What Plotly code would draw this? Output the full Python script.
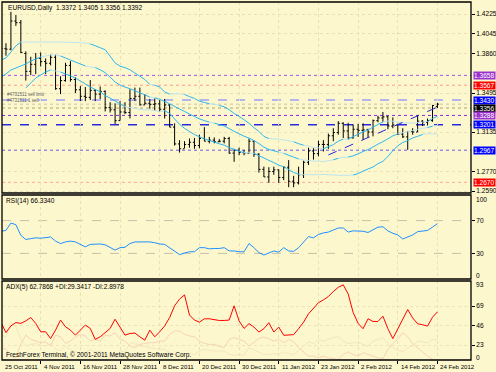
import plotly.graph_objects as go

# ---------------- data ----------------
date_labels = ["25 Oct 2011", "4 Nov 2011", "16 Nov 2011", "28 Nov 2011", "8 Dec 2011",
               "20 Dec 2011", "30 Dec 2011", "11 Jan 2012", "23 Jan 2012", "2 Feb 2012",
               "14 Feb 2012", "24 Feb 2012"]
date_label_bars = [0, 8, 16, 24, 32, 40, 48, 56, 64, 72, 80, 88]

opens = [1.3900, 1.3905, 1.3900, 1.4160, 1.4145, 1.3860, 1.3695, 1.3760, 1.3815, 1.3785,
         1.3770, 1.3825, 1.3535, 1.3610, 1.3750, 1.3620, 1.3525, 1.3465, 1.3455, 1.3520,
         1.3485, 1.3510, 1.3360, 1.3340, 1.3240, 1.3320, 1.3315, 1.3445, 1.3465, 1.3385,
         1.3400, 1.3390, 1.3395, 1.3345, 1.3385, 1.3180, 1.3025, 1.2980, 1.3020, 1.3040,
         1.3010, 1.3075, 1.3050, 1.3060, 1.3045, 1.3050, 1.3075, 1.2940, 1.2965, 1.2945,
         1.2940, 1.3050, 1.2930, 1.2790, 1.2720, 1.2770, 1.2785, 1.2715, 1.2810, 1.2680,
         1.2665, 1.2740, 1.2855, 1.2960, 1.2935, 1.3020, 1.3020, 1.3100, 1.3130, 1.3215,
         1.3145, 1.3080, 1.3160, 1.3150, 1.3155, 1.3135, 1.3240, 1.3265, 1.3275, 1.3190,
         1.3200, 1.3115, 1.3090, 1.3140, 1.3135, 1.3235, 1.3225, 1.3240, 1.3372]
highs = [1.3960, 1.3955, 1.4245, 1.4215, 1.4170, 1.3880, 1.3830, 1.3865, 1.3870, 1.3815,
         1.3850, 1.3850, 1.3650, 1.3775, 1.3790, 1.3640, 1.3560, 1.3550, 1.3615, 1.3530,
         1.3555, 1.3520, 1.3410, 1.3400, 1.3420, 1.3410, 1.3530, 1.3545, 1.3545, 1.3485,
         1.3440, 1.3445, 1.3430, 1.3440, 1.3390, 1.3215, 1.3060, 1.3050, 1.3075, 1.3080,
         1.3110, 1.3180, 1.3090, 1.3085, 1.3070, 1.3090, 1.3090, 1.2980, 1.2990, 1.2970,
         1.3075, 1.3055, 1.2940, 1.2815, 1.2810, 1.2815, 1.2790, 1.2815, 1.2875, 1.2730,
         1.2815, 1.2870, 1.2990, 1.2985, 1.3055, 1.3060, 1.3120, 1.3170, 1.3235, 1.3225,
         1.3220, 1.3205, 1.3210, 1.3215, 1.3165, 1.3250, 1.3285, 1.3320, 1.3285, 1.3270,
         1.3210, 1.3170, 1.3145, 1.3170, 1.3290, 1.3245, 1.3260, 1.3385, 1.3405]
lows = [1.3840, 1.3840, 1.3890, 1.4115, 1.3865, 1.3610, 1.3660, 1.3670, 1.3740, 1.3670,
        1.3750, 1.3525, 1.3485, 1.3600, 1.3600, 1.3495, 1.3420, 1.3420, 1.3430, 1.3420,
        1.3440, 1.3325, 1.3315, 1.3210, 1.3240, 1.3300, 1.3260, 1.3420, 1.3380, 1.3385,
        1.3350, 1.3330, 1.3320, 1.3260, 1.3180, 1.3010, 1.2945, 1.2985, 1.2990, 1.2980,
        1.2985, 1.3050, 1.3030, 1.3030, 1.3040, 1.3030, 1.2935, 1.2860, 1.2920, 1.2920,
        1.2935, 1.2905, 1.2760, 1.2720, 1.2665, 1.2740, 1.2665, 1.2690, 1.2625, 1.2625,
        1.2650, 1.2710, 1.2830, 1.2880, 1.2910, 1.2955, 1.2980, 1.3050, 1.3110, 1.3080,
        1.3065, 1.3075, 1.3090, 1.3060, 1.3080, 1.3095, 1.3225, 1.3225, 1.3160, 1.3170,
        1.3110, 1.3080, 1.2970, 1.3110, 1.3135, 1.3190, 1.3195, 1.3230, 1.3356]
closes = [1.3905, 1.3900, 1.4160, 1.4145, 1.3870, 1.3695, 1.3760, 1.3815, 1.3785, 1.3770,
          1.3825, 1.3535, 1.3610, 1.3750, 1.3620, 1.3525, 1.3465, 1.3455, 1.3520, 1.3485,
          1.3510, 1.3360, 1.3340, 1.3240, 1.3320, 1.3315, 1.3445, 1.3465, 1.3385, 1.3400,
          1.3390, 1.3395, 1.3345, 1.3385, 1.3180, 1.3025, 1.2980, 1.3020, 1.3040, 1.3010,
          1.3075, 1.3050, 1.3060, 1.3045, 1.3050, 1.3075, 1.2940, 1.2965, 1.2945, 1.2940,
          1.3050, 1.2930, 1.2790, 1.2720, 1.2770, 1.2785, 1.2715, 1.2810, 1.2680, 1.2665,
          1.2740, 1.2855, 1.2960, 1.2935, 1.3020, 1.3020, 1.3100, 1.3130, 1.3215, 1.3145,
          1.3080, 1.3160, 1.3150, 1.3155, 1.3135, 1.3240, 1.3265, 1.3275, 1.3190, 1.3200,
          1.3115, 1.3090, 1.3140, 1.3135, 1.3235, 1.3225, 1.3240, 1.3380, 1.3392]

band_upper = [1.3800, 1.3819, 1.3874, 1.3930, 1.3966, 1.3966, 1.3966, 1.3966, 1.3966, 1.3966,
              1.3966, 1.3966, 1.3966, 1.3964, 1.3964, 1.3962, 1.3960, 1.3957, 1.3948, 1.3932,
              1.3913, 1.3895, 1.3836, 1.3773, 1.3743, 1.3730, 1.3710, 1.3680, 1.3650, 1.3620,
              1.3574, 1.3567, 1.3550, 1.3505, 1.3485, 1.3487, 1.3488, 1.3481, 1.3462, 1.3445,
              1.3420, 1.3408, 1.3396, 1.3392, 1.3380, 1.3368, 1.3341, 1.3307, 1.3280, 1.3248,
              1.3215, 1.3175, 1.3140, 1.3094, 1.3075, 1.3071, 1.3070, 1.3061, 1.3053, 1.3045,
              1.3027, 1.3013, 1.3003, 1.2992, 1.2989, 1.2981, 1.2999, 1.3018, 1.3050, 1.3069,
              1.3071, 1.3092, 1.3115, 1.3136, 1.3153, 1.3180, 1.3204, 1.3228, 1.3236, 1.3235,
              1.3226, 1.3220, 1.3220, 1.3216, 1.3223, 1.3226, 1.3232, 1.3260, 1.3280]
band_mid = [1.3643, 1.3671, 1.3708, 1.3726, 1.3745, 1.3763, 1.3791, 1.3809, 1.3828, 1.3837,
            1.3846, 1.3846, 1.3837, 1.3819, 1.3800, 1.3782, 1.3763, 1.3745, 1.3736, 1.3730,
            1.3710, 1.3683, 1.3642, 1.3597, 1.3569, 1.3550, 1.3535, 1.3517, 1.3497, 1.3479,
            1.3457, 1.3450, 1.3437, 1.3418, 1.3396, 1.3371, 1.3347, 1.3325, 1.3301, 1.3278,
            1.3256, 1.3240, 1.3226, 1.3217, 1.3203, 1.3191, 1.3166, 1.3141, 1.3119, 1.3096,
            1.3079, 1.3056, 1.3028, 1.2995, 1.2974, 1.2962, 1.2949, 1.2938, 1.2920, 1.2903,
            1.2886, 1.2877, 1.2872, 1.2866, 1.2865, 1.2862, 1.2870, 1.2878, 1.2892, 1.2902,
            1.2903, 1.2915, 1.2933, 1.2955, 1.2973, 1.2996, 1.3023, 1.3046, 1.3072, 1.3099,
            1.3117, 1.3129, 1.3138, 1.3148, 1.3159, 1.3169, 1.3176, 1.3189, 1.3197]
band_lower = [None, None, None, None, None, 1.3542, 1.3588, 1.3634, 1.3662, 1.3689,
              1.3708, 1.3699, 1.3689, 1.3671, 1.3653, 1.3634, 1.3606, 1.3579, 1.3551, 1.3528,
              1.3507, 1.3471, 1.3448, 1.3421, 1.3395, 1.3370, 1.3360, 1.3354, 1.3344, 1.3338,
              1.3339, 1.3333, 1.3324, 1.3331, 1.3307, 1.3255, 1.3206, 1.3169, 1.3140, 1.3111,
              1.3092, 1.3072, 1.3056, 1.3042, 1.3026, 1.3014, 1.2991, 1.2975, 1.2958, 1.2944,
              1.2943, 1.2937, 1.2916, 1.2895, 1.2873, 1.2853, 1.2828, 1.2815, 1.2787, 1.2761,
              1.2745, 1.2741, 1.2741, 1.2740, 1.2741, 1.2743, 1.2741, 1.2738, 1.2734, 1.2735,
              1.2735, 1.2738, 1.2751, 1.2774, 1.2793, 1.2812, 1.2842, 1.2864, 1.2908, 1.2963,
              1.3008, 1.3038, 1.3056, 1.3080, 1.3095, 1.3112, 1.3120, 1.3118, 1.3114]

trend_bars = [66, 89]
trend_prices = [1.2923, 1.3385]

rsi = [57, 58, 67, 65, 52, 47, 48, 49, 48.5, 49, 50, 45, 42, 44, 45, 44, 41, 38, 41, 41.5,
       41.5, 40.5, 37, 34, 37, 37.5, 42, 44, 44, 44, 44, 43, 41.5, 41, 37, 32, 28.5, 30.5, 32, 32,
       37, 37, 35.5, 36, 36, 37, 33, 33, 32, 32, 42, 37, 31, 28, 31, 33, 31.5, 37, 33, 32.5,
       37, 44, 50.5, 49, 53, 55, 56, 58.5, 61, 61, 56, 57.5, 57, 57, 55.5, 59, 62, 62.5, 57.5,
       54.5, 52.5, 47.6, 50, 52.5, 56.5, 57.5, 58, 62, 66.334]
adx = [50, 38, 46, 50, 49, 52, 56, 49, 39, 39, 31, 41, 53, 45, 41, 35, 41, 47, 43, 30,
       33, 38, 43, 54, 45, 35, 37, 37.5, 33, 29, 41, 33, 39, 46, 56, 70, 78, 83, 59, 53,
       50.5, 54.5, 54.5, 53.3, 52.5, 52.5, 53, 70, 52, 43, 48.8, 44.6, 38.7, 42.7, 49.8, 38.7,
       44.6, 34.8, 34.8, 35.6, 42.7, 50.5, 60.4, 67, 73.7, 77, 81, 87, 92, 95, 84, 62, 49,
       42.7, 54.5, 51.3, 51.3, 57.6, 42.7, 30.9, 42.7, 54.5, 65.5, 55.5, 48.6, 47.4, 45.8,
       56.4, 62.7868]
plus_di = [35, 33, 50, 45, 30, 22, 24, 25, 23, 22, 25, 18, 17, 22, 18, 15, 13, 14, 18, 15,
           16, 12, 11, 10, 16, 15, 25, 26, 22, 21, 20, 19, 18, 18, 14, 12, 11, 13, 13, 12,
           16, 18, 17, 16, 16, 16, 12, 11, 12, 11, 20, 17, 14, 12, 12, 13, 12, 15, 13, 12,
           17, 22, 27, 25, 30, 28, 30, 32, 33, 28, 25, 26, 26, 24, 22, 28, 30, 32, 25, 20,
           17, 15, 20, 22, 28, 27, 26, 30, 29.3417]
minus_di = [20, 18, 10, 8, 25, 35, 30, 28, 26, 27, 22, 35, 33, 25, 28, 33, 36, 34, 28, 30,
            28, 35, 34, 38, 30, 28, 22, 20, 24, 25, 26, 26, 28, 28, 36, 40, 40, 36, 34, 33,
            28, 25, 24, 24, 22, 20, 30, 32, 30, 28, 22, 27, 31, 33, 30, 28, 30, 26, 30, 27,
            20, 15, 10, 10, 8, 10, 8, 7, 6, 12, 15, 12, 10, 14, 12, 10, 8, 7, 18, 25,
            30, 38, 33, 25, 20, 14, 10, 6, 2.8978]

price_ticks = [1.4225, 1.4045, 1.3860, 1.3495, 1.3135, 1.2770, 1.2590]
level_values = [1.3658, 1.3567, 1.3430, 1.3392, 1.3356, 1.3288, 1.3201, 1.2967, 1.2670]
level_colors = ["#A455E6", "#FF9C8C", "#B4B4EE", "#C9C4A6", "#C8C08C", "#8B2BE2", "#2A2AE0", "#6F5BE0", "#FFA595"]
level_dashes = ["dot", "dot", "dash", "dot", "dot", "dot", "dash", "dot", "dot"]
level_widths = [1, 1, 2, 1, 1.5, 1, 1.5, 1, 1]
box_values = [1.3658, 1.3567, 1.3430, 1.3356, 1.3288, 1.3201, 1.2967, 1.2670]
box_colors = ["#9932CC", "#FF0000", "#0000FF", "#000000", "#9932CC", "#0000FF", "#0000FF", "#FF0000"]

rsi_ticks = [70, 30]
adx_ticks = [69, 46, 23]

title_text = "EURUSD,Daily  1.3372 1.3405 1.3356 1.3392"
rsi_text = "RSI(14) 66.3340"
adx_text = "ADX(5) 62.7868 +DI:29.3417 -DI:2.8978"
copyright_text = "FreshForex Terminal, \u00a9 2001-2011 MetaQuotes Software Corp."
order_texts = ["#4731511 sell limit", "#4731511 1 sell"]

# ---------------- layout helpers ----------------
W, H = 496, 372
BG = "#FDF7CD"
FONT = "Liberation Sans Narrow, Liberation Sans, Arial, sans-serif"
FS = 6.6
L_PX, R_PX = 2, 471
BAR0_PX, BAR_STEP = 1.0, 4.96
MAIN_PX = (2, 193)
RSI_PX = (195, 279)
ADX_PX = (281, 360)
BAND_COLOR = "#2BB8F0"
BAND_FLAT_COLOR = "#BDE4EE"
FLAT_STEP = 0.0012


def fx(px):
    return px / W


def fy(py):
    return 1 - py / H


def dom(p):
    return [fy(p[1]), fy(p[0])]


P_TOP, P_TOP_Y, P_BOT, P_BOT_Y = 1.4225, 14, 1.2590, 191
ppx = (P_TOP - P_BOT) / (P_BOT_Y - P_TOP_Y)
main_range = [P_BOT - (MAIN_PX[1] - P_BOT_Y) * ppx, P_TOP + (P_TOP_Y - MAIN_PX[0]) * ppx]
rppx = 100 / (278 - 196)
rsi_range = [0 - (RSI_PX[1] - 278) * rppx, 100 + (196 - RSI_PX[0]) * rppx]
appx = 46.5 / (345 - 306)
adx_range = [23.25 - (ADX_PX[1] - 345) * appx, 69.75 + (306 - ADX_PX[0]) * appx]

x_range = [(L_PX - BAR0_PX) / BAR_STEP, (R_PX - BAR0_PX) / BAR_STEP]
idx = list(range(len(closes)))

fig = go.Figure()

fig.add_trace(go.Ohlc(x=idx, open=opens, high=highs, low=lows, close=closes,
                      increasing=dict(line=dict(color="#000000", width=1)),
                      decreasing=dict(line=dict(color="#000000", width=1)),
                      tickwidth=0.32, xaxis="x", yaxis="y", hoverinfo="skip"))

# bands: flat stretches are drawn in a paler tint, as on the terminal
for band in (band_upper, band_mid, band_lower):
    segs = {True: ([], []), False: ([], [])}
    for i in range(len(band) - 1):
        a, b = band[i], band[i + 1]
        if a is None or b is None:
            continue
        flat = abs(b - a) < FLAT_STEP
        xs, ys = segs[flat]
        xs += [idx[i], idx[i + 1], None]
        ys += [a, b, None]
    for flat, (xs, ys) in segs.items():
        if xs:
            fig.add_trace(go.Scatter(x=xs, y=ys, mode="lines",
                                     line=dict(color=BAND_FLAT_COLOR if flat else BAND_COLOR, width=1),
                                     xaxis="x", yaxis="y", hoverinfo="skip"))

fig.add_trace(go.Scatter(x=trend_bars, y=trend_prices, mode="lines",
                         line=dict(color="#2424D8", width=1, dash="dash"), xaxis="x", yaxis="y"))

fig.add_trace(go.Scatter(x=idx, y=rsi, mode="lines", line=dict(color="#1E90FF", width=1),
                         xaxis="x", yaxis="y2", hoverinfo="skip"))

fig.add_trace(go.Scatter(x=idx, y=plus_di, mode="lines", line=dict(color="#F3E7BE", width=1),
                         xaxis="x", yaxis="y3", hoverinfo="skip"))
fig.add_trace(go.Scatter(x=idx, y=minus_di, mode="lines", line=dict(color="#F6D3B8", width=1),
                         xaxis="x", yaxis="y3", hoverinfo="skip"))
fig.add_trace(go.Scatter(x=idx, y=adx, mode="lines", line=dict(color="#FF0000", width=1),
                         xaxis="x", yaxis="y3", hoverinfo="skip"))

shapes = []
for v, c, d, w in zip(level_values, level_colors, level_dashes, level_widths):
    shapes.append(dict(type="line", xref="x domain", yref="y", x0=0, x1=1, y0=v, y1=v,
                       line=dict(color=c, width=w, dash=d), layer="below"))
for v in rsi_ticks:
    shapes.append(dict(type="line", xref="x domain", yref="y2", x0=0, x1=1, y0=v, y1=v,
                       line=dict(color="#C8C0A8", width=1, dash="dash"), layer="below"))
for p in (MAIN_PX, RSI_PX, ADX_PX):
    shapes.append(dict(type="rect", xref="paper", yref="paper", x0=fx(L_PX), x1=fx(R_PX),
                       y0=fy(p[1]), y1=fy(p[0]), line=dict(color="#000000", width=1.3)))

ann = []


def text(x, y, s, color="#000000", size=FS, xanchor="left", bg=None, **kw):
    d = dict(x=x, y=y, text=s, showarrow=False, xanchor=xanchor, yanchor="middle",
             font=dict(family=FONT, size=size, color=color), **kw)
    if bg:
        d.update(bgcolor=bg, borderpad=0)
    ann.append(d)


text(fx(6), fy(8), title_text, xref="paper", yref="paper")
text(fx(4), fy(200.5), rsi_text, xref="paper", yref="paper")
text(fx(4), fy(287), adx_text, xref="paper", yref="paper")
text(fx(4), fy(355), copyright_text, xref="paper", yref="paper")
text(fx(5), fy(94), order_texts[0], color="#606060", size=4.5, xref="paper", yref="paper")
text(fx(5), fy(100), order_texts[1], color="#606060", size=4.5, xref="paper", yref="paper")

for v, c in zip(box_values, box_colors):
    text(fx(473), v, "{:.4f}".format(v), color="#FFFFFF", bg=c, xref="paper", yref="y")

for b, s in zip(date_label_bars, date_labels):
    bx = max(BAR0_PX + BAR_STEP * b + 1.0, L_PX + 0.5)
    text(fx(bx), fy(366), s, size=6.1, xref="paper", yref="paper")

text(fx(474), fy(199), "100", xref="paper", yref="paper")
text(fx(474), fy(275), "0", xref="paper", yref="paper")
text(fx(474), fy(284), "93", xref="paper", yref="paper")
text(fx(474), fy(357), "0", xref="paper", yref="paper")

axis_common = dict(showline=False, zeroline=False, ticks="outside", ticklen=3, tickcolor="#000000",
                   tickfont=dict(family=FONT, size=FS, color="#000000"), fixedrange=True)

fig.update_layout(
    width=W, height=H, margin=dict(l=0, r=0, t=0, b=0),
    paper_bgcolor=BG, plot_bgcolor=BG, showlegend=False,
    xaxis=dict(domain=[fx(L_PX), fx(R_PX)], range=x_range, anchor="y3",
               tickvals=date_label_bars, ticktext=[""] * len(date_label_bars),
               showgrid=True, gridcolor="#E9E0B4", griddash="dot", gridwidth=1,
               rangeslider=dict(visible=False), **axis_common),
    yaxis=dict(domain=dom(MAIN_PX), range=main_range, side="right", anchor="x",
               tickvals=price_ticks, ticktext=["{:.4f}".format(v) for v in price_ticks],
               showgrid=True, gridcolor="#E9E0B4", griddash="dot", **axis_common),
    yaxis2=dict(domain=dom(RSI_PX), range=rsi_range, side="right", anchor="x",
                tickvals=rsi_ticks, showgrid=False, **axis_common),
    yaxis3=dict(domain=dom(ADX_PX), range=adx_range, side="right", anchor="x",
                tickvals=[69.75, 46.5, 23.25], ticktext=[str(v) for v in adx_ticks],
                showgrid=True, gridcolor="#EDE4BC", griddash="dot", **axis_common),
    shapes=shapes, annotations=ann,
)

fig.write_html("out.html", config={"displayModeBar": False},
               post_script="document.body.style.margin='0';document.body.style.padding='0';"
                           "document.body.style.overflow='hidden';")
